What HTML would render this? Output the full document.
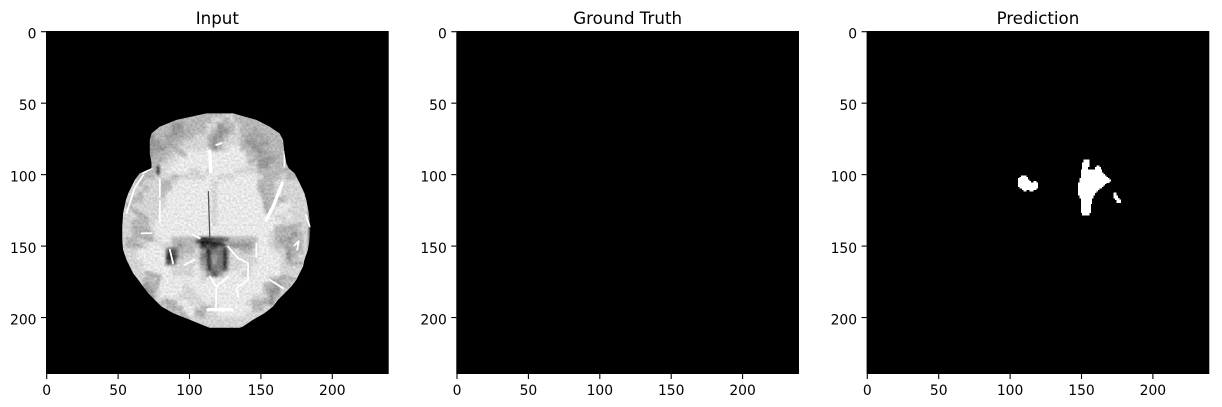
<!DOCTYPE html>
<html lang="en">
<head>
<meta charset="utf-8">
<title>Input, Ground Truth and Prediction</title>
<style>
html,body{margin:0;padding:0;background:#fff;width:1222px;height:407px;overflow:hidden}
svg{display:block}
text{font-family:"DejaVu Sans","Liberation Sans",sans-serif;fill:#000}
</style>
</head>
<body>
<svg id="figure" xmlns="http://www.w3.org/2000/svg" width="1222" height="407" viewBox="0 0 1222 407">
  <defs>
    <filter id="soft" x="-5%" y="-5%" width="110%" height="110%" color-interpolation-filters="sRGB">
      <feGaussianBlur in="SourceGraphic" stdDeviation="1.3" result="smooth"/>
      <feTurbulence type="fractalNoise" baseFrequency="0.45" numOctaves="2" seed="7" result="grain"/>
      <feColorMatrix in="grain" type="matrix" values="1 0 0 0 0  1 0 0 0 0  1 0 0 0 0  0 0 0 0 1" result="grainGray"/>
      <feComposite in="smooth" in2="grainGray" operator="arithmetic" k1="0" k2="1" k3="0.26" k4="-0.13"/>
    </filter>
    <clipPath id="brain-clip"><polygon id="brain-clip-shape" points="0,0"/></clipPath>
  </defs>
</svg>
<script>
// ---- chart data (image coordinates, 240 x 240 volume slice) ----
const panelTitles = ['Input', 'Ground Truth', 'Prediction'];
const xTickValues = [0, 50, 100, 150, 200];
const yTickValues = [0, 50, 100, 150, 200];
const imageSize = [240, 240];

// Brain outline: slice row, first and last column of tissue on that row
const outlineRows  = [57.6,62.2,66.9,71.6,76.2,85.5,92.5,96,99.5,104.2,108.9,113.5,118.2,127.5,136.8,146.2,153.1,160.1,164.8,169.5,174.1,178.8,183.5,188.1,192.8,197.4,202,206.8,207.7];
const outlineLeft  = [112.3,91.4,79.7,73.9,72.7,72.7,73.9,73.9,65.7,62.2,59.9,57.6,56,54,53.4,53.4,54,56.4,58.7,61,64.6,68,71.6,76.2,80.9,89,100.7,112.3,114.7];
const outlineRight = [131,147.3,156.6,163.6,166,167,168.3,170,174.1,176.5,178.8,181,182.3,184.1,185.3,184.6,183.4,181,180,177.6,175.3,171.8,167.1,162.5,159,153.1,145,138,135.7];

// Coarse intensity map of the input slice: 4x4 image-pixel cells, levels 0-9
const intensityCellSize = 4;
const intensityOrigin = [52, 56];
const intensityRows = [
"666666666666666666776666666666666",
"666666666666666677676666666666666",
"666666666556666775667666666666666",
"666666666556666765567665666666666",
"666665665566677755677655566666666",
"666665565667777756777655556666666",
"666665556677777856788665566666666",
"666665666778888888888866556666666",
"666666667788888888888877555666666",
"666666677888888888888877556666666",
"666666678888778788887777666666666",
"777666777677777887778888766676666",
"777677766788888878888888666777777",
"777767766888888878888888666777777",
"777677768888888878888888766777777",
"776677778888888878888888866667777",
"767777778888888878888888866788777",
"777777788888888878888888877887777",
"777677788888888878888888888778777",
"776667888888888878888888888877777",
"776667888888888888888888888666677",
"776667888888888888888888887666567",
"766777788666662233466666887655667",
"766678877656662324655556887665667",
"777888883366675344477667888775667",
"777888882367774454477777888875677",
"777788883677775454477777888876777",
"777788888777786444577878888877777",
"777777888777787535788778888877777",
"777766888888887888888888886667777",
"777756788887888888888888866566777",
"777755788887788888888888865577777",
"777775788877778888888887775677777",
"777777766688777878888876665777777",
"777777776668886678888886677777777",
"777777777677866778888877777777777",
"777777777777777777777777777777777",
"777777777777777777777777777777777"
];

// Darker cortical folds traced through the slice (column,row pairs)
const corticalFolds = [
 [[82,77.4],[96,73.9],[100.7,69.2]],
 [[89,80.9],[97.2,86.7]],
 [[76.2,83.2],[79.7,90.2]],
 [[140.3,73.9],[156.6,76.2]],
 [[142.7,91.4],[154.3,86.7],[163.6,87.9]],
 [[145,69.2],[149.6,78.6]],
 [[114.7,73.9],[114.7,80.9]],
 [[61,138],[72.7,140.3],[73.9,146.2],[65.7,143.8]],
 [[57.6,148.5],[64.6,149.7]],
 [[61,125.2],[70.4,131]],
 [[166,139.2],[177.6,135.7]],
 [[166,143.8],[171.8,152],[177.6,150.8]],
 [[171.8,162.5],[178.8,162.5]],
 [[70.4,169.5],[79.7,171.8],[75,183.5]],
 [[156.6,178.8],[166,171.8],[174,174]],
 [[84.4,188.1],[89,192.8]],
 [[94.9,197.4],[99.5,202]],
 [[105.4,195],[110,199.8]],
 [[149.6,190.4],[155.5,188.1]],
 [[150.8,108.9],[155.5,127.5]]
];

// Near-black fluid spaces around the ventricle
const darkCavities = [
 [[105.4,147.3],[125.2,149.7]],
 [[113.5,153.2],[114.7,167.1]],
 [[125.2,167.1],[125.2,152]],
 [[86.7,154.3],[90,162.5]],
 [[78.5,95],[78.5,100]]
];

// Bright vessels and thin dark midline (column,row pairs)
const brightVessels = [
 [[68,101],[62,110],[56.4,127.5]],
 [[74,96],[68,99.5]],
 [[79.7,104],[79.7,116]],
 [[79.7,119],[79.7,133.3]],
 [[127.5,150.8],[134.5,159],[141.5,162.5],[141.5,174],[133.3,180],[134.5,185.8]],
 [[114.7,171.8],[119.3,178.8],[127.5,171.8]],
 [[119.3,178.8],[119,195]],
 [[156.6,174],[166,180]],
 [[174,150],[177,147],[176,153]],
 [[67,141.5],[74,141.5]],
 [[86.7,153],[89,162.5]],
 [[97,163.7],[104,160]],
 [[147.3,148.5],[147.3,158]],
 [[182,128.7],[184.6,136.8]],
 [[167,84.4],[167,95]],
 [[122.8,78.6],[119.3,79.7]],
 [[103,142.6],[107.7,145]]
];
const thickVessels = [
 [[165.5,106.5],[159,123],[154.3,132]],
 [[114.7,84.4],[115.4,98.4]],
 [[113.5,195],[130,195]]
];
const darkSulci = [
 [[113.7,112.4],[114.7,143.8]]
];

// Predicted lesion mask, runs of foreground pixels: row, start column, end column
const predictionRuns = [
 [101,108,112],[102,107,113],[103,106,113],[104,106,114],[105,106,115],[105,117,119],[106,106,120],[107,106,120],[108,106,120],[109,107,120],[110,109,119],[111,110,112],[111,114,117],
 [90,152,156],[91,152,156],[92,151,156],[93,151,156],[94,151,156],[94,161,163],[95,151,155],[95,160,164],[96,151,155],[96,160,164],
 [97,150,165],[98,150,165],[99,150,166],[100,150,167],[101,150,168],[102,150,169],[103,149,170],[104,149,171],[105,149,170],
 [106,148,168],[107,148,167],[108,148,166],[109,148,165],[110,148,163],[111,148,162],[112,148,161],[113,148,160],[114,148,160],
 [115,149,159],[116,149,159],[117,150,158],[118,150,158],[119,150,158],[120,150,158],[121,150,157],[122,150,157],[123,150,157],[124,150,157],[125,150,157],[126,150,157],[127,151,156],[128,151,156],
 [113,173,175],[114,173,175],[115,173,176],[116,173,176],[117,174,177],[118,175,178],[119,175,178]
];

// Ground truth mask is empty for this slice
const groundTruthRuns = [];

// ---- rendering ----
const NS = 'http://www.w3.org/2000/svg';
const svg = document.getElementById('figure');
const panelLefts = [46, 456.3, 866.6];
const axesTop = 31;
const axesWidth = 342.7;
const axesHeight = 343;
const grayRamp = [0, 20, 50, 85, 120, 150, 182, 212, 232, 250];
const xScale = (left) => (v) => left + v / imageSize[0] * axesWidth;
const yScale = (v) => axesTop + v / imageSize[1] * axesHeight;

function make(tag, parent) {
  const el = document.createElementNS(NS, tag);
  parent.appendChild(el);
  return el;
}

function drawAxes(i) {
  const left = panelLefts[i];
  const x = xScale(left);
  const group = make('g', svg);
  
  

  const bg = make('rect', group);
  
  
  bg.setAttribute('x', x(0));
  bg.setAttribute('y', yScale(0));
  bg.setAttribute('width', x(imageSize[0]) - x(0));
  bg.setAttribute('height', yScale(imageSize[1]) - yScale(0));
  bg.setAttribute('fill', '#000');

  const title = make('text', group);
  
  
  title.setAttribute('x', left + axesWidth / 2);
  title.setAttribute('y', 24);
  title.setAttribute('text-anchor', 'middle');
  title.setAttribute('font-size', '16.67');
  title.textContent = panelTitles[i];

  xTickValues.forEach((v) => {
    const px = x(v + 0.5);
    const tick = make('line', group);
    
    
    tick.setAttribute('x1', px);
    tick.setAttribute('x2', px);
    tick.setAttribute('y1', axesTop + axesHeight);
    tick.setAttribute('y2', axesTop + axesHeight + 5);
    tick.setAttribute('stroke', '#000');
    tick.setAttribute('stroke-width', '1.1');
    const label = make('text', group);
    
    
    label.setAttribute('x', px);
    label.setAttribute('y', 395);
    label.setAttribute('text-anchor', 'middle');
    label.setAttribute('font-size', '13.89');
    label.textContent = v;
  });

  yTickValues.forEach((v) => {
    const py = yScale(v + 0.5);
    const tick = make('line', group);
    
    
    tick.setAttribute('x1', left - 5);
    tick.setAttribute('x2', left);
    tick.setAttribute('y1', py);
    tick.setAttribute('y2', py);
    tick.setAttribute('stroke', '#000');
    tick.setAttribute('stroke-width', '1.1');
    const label = make('text', group);
    
    
    label.setAttribute('x', left - 9.5);
    label.setAttribute('y', py + 7);
    label.setAttribute('text-anchor', 'end');
    label.setAttribute('font-size', '13.89');
    label.textContent = v;
  });
  return group;
}

function drawMask(group, runs, x, name) {
  const mask = make('g', group);
  
  
  mask.setAttribute('shape-rendering', 'crispEdges');
  runs.forEach((run) => {
    const r = make('rect', mask);
    
    
    r.setAttribute('x', x(run[1]));
    r.setAttribute('y', yScale(run[0]));
    r.setAttribute('width', x(run[2]) - x(run[1]));
    r.setAttribute('height', yScale(run[0] + 1) - yScale(run[0]) + 0.3);
    r.setAttribute('fill', '#fff');
  });
}

function drawPaths(parent, list, x, color, width, name) {
  list.forEach((pts) => {
    const p = make('polyline', parent);
    
    
    p.setAttribute('points', pts.map((q) => x(q[0]) + ',' + yScale(q[1])).join(' '));
    p.setAttribute('fill', 'none');
    p.setAttribute('stroke', color);
    p.setAttribute('stroke-width', width);
    p.setAttribute('stroke-linecap', 'round');
    p.setAttribute('stroke-linejoin', 'round');
  });
}

function drawBrain(group, x) {
  const shape = document.getElementById('brain-clip-shape');
  const leftSide = outlineRows.map((r, k) => x(outlineLeft[k]) + ',' + yScale(r));
  const rightSide = outlineRows.map((r, k) => x(outlineRight[k]) + ',' + yScale(r)).reverse();
  shape.setAttribute('points', leftSide.concat(rightSide).join(' '));

  const brain = make('g', group);
  
  
  brain.setAttribute('clip-path', 'url(#brain-clip)');

  const cells = make('g', brain);
  
  
  cells.setAttribute('filter', 'url(#soft)');
  intensityRows.forEach((row, j) => {
    row.split('').forEach((ch, i) => {
      const g = grayRamp[Number(ch)];
      const c = make('rect', cells);
      
      
      const cx = intensityOrigin[0] + i * intensityCellSize;
      const cy = intensityOrigin[1] + j * intensityCellSize;
      c.setAttribute('x', x(cx));
      c.setAttribute('y', yScale(cy));
      c.setAttribute('width', x(cx + intensityCellSize) - x(cx) + 0.5);
      c.setAttribute('height', yScale(cy + intensityCellSize) - yScale(cy) + 0.5);
      c.setAttribute('fill', 'rgb(' + g + ',' + g + ',' + g + ')');
    });
  });
  drawPaths(cells, corticalFolds, x, '#ababab', 4, 'cortical-fold');
  drawPaths(cells, darkCavities, x, '#141414', 2.2, 'dark-cavity');
  drawPaths(brain, darkSulci, x, '#555', 1.3, 'dark-sulcus');
  drawPaths(brain, brightVessels, x, '#fff', 1.8, 'bright-vessel');
  drawPaths(brain, thickVessels, x, '#fff', 3.4, 'thick-vessel');
}

const inputPanel = drawAxes(0);
drawBrain(inputPanel, xScale(panelLefts[0]));
const truthPanel = drawAxes(1);
drawMask(truthPanel, groundTruthRuns, xScale(panelLefts[1]), 'ground-truth-mask');
const predictionPanel = drawAxes(2);
drawMask(predictionPanel, predictionRuns, xScale(panelLefts[2]), 'prediction-mask');
</script>
</body>
</html>
